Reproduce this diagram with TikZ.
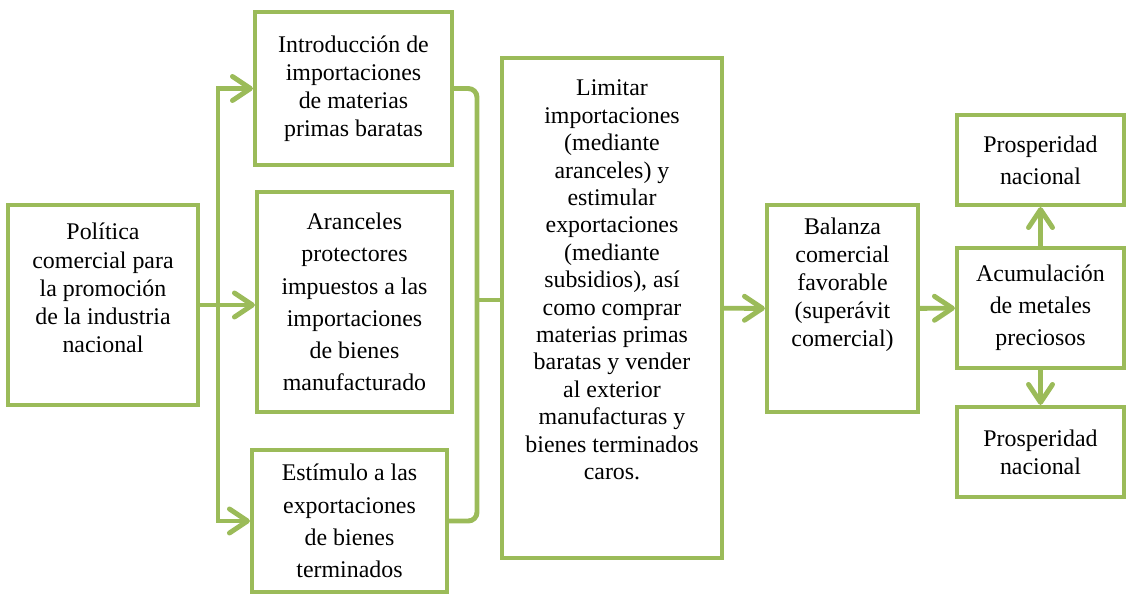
\documentclass[tikz,border=0pt]{standalone}
\usepackage{fontspec}
\setmainfont{Liberation Serif}
\usetikzlibrary{arrows.meta,positioning}
\definecolor{olive}{HTML}{9BBB59}

\begin{document}
\begin{tikzpicture}[
    x=0.02cm,y=-0.02cm,
    font=\fontsize{13.6}{16}\selectfont,
    box/.style={draw=olive,line width=2.4pt,fill=white,align=center,inner sep=0pt},
    loose/.style={font=\fontsize{13.6}{18.3}\selectfont},
    txt/.style={align=center,inner sep=0pt},
    link/.style={draw=olive,line width=2.8pt},
    arr/.style={link,-{Straight Barb[length=3.6mm,width=4.8mm,round]}}
  ]
  \useasboundingbox (0,0) rectangle (1126,595);
  % boxes
  \node[box,minimum width=3.8cm,minimum height=4cm] (pol) at (103,305) {};
  \node[txt] (poltext) at (103,288) {Política\\comercial para\\la promoción\\de la industria\\nacional};
  \node[box,minimum width=3.94cm,minimum height=3.06cm] (intro) at (353.5,88.5)
    {Introducción de\\importaciones\\de materias\\primas baratas};
  \node[box,loose,minimum width=3.9cm,minimum height=4.4cm] (aranc) at (354.5,302)
    {Aranceles\\protectores\\impuestos a las\\importaciones\\de bienes\\manufacturado};
  \node[box,loose,minimum width=3.9cm,minimum height=2.84cm] (estim) at (349.5,521)
    {Estímulo a las\\exportaciones\\de bienes\\terminados};
  \node[box,minimum width=4.4cm,minimum height=10cm] (limit) at (612,308) {};
  \node[txt,font=\fontsize{13.6}{15.6}\selectfont] (limittext) at (612,280)
    {Limitar\\importaciones\\(mediante\\aranceles) y\\estimular\\exportaciones\\(mediante\\subsidios), así\\como comprar\\materias primas\\baratas y vender\\al exterior\\manufacturas y\\bienes terminados\\caros.};
  \node[box,minimum width=3.02cm,minimum height=4.14cm] (balanza) at (842.5,308.5) {};
  \node[txt] (balanzatext) at (842.5,285)
    {Balanza\\comercial\\favorable\\(superávit\\comercial)};
  \node[box,loose,minimum width=3.34cm,minimum height=1.8cm] (pros1) at (1040.5,160)
    {Prosperidad\\nacional};
  \node[box,loose,minimum width=3.34cm,minimum height=2.4cm] (acum) at (1040.5,308)
    {Acumulación\\de metales\\preciosos};
  \node[box,minimum width=3.34cm,minimum height=1.8cm] (pros2) at (1040.5,452)
    {Prosperidad\\nacional};
  % connectors
  \coordinate (fork) at (218,305);
  \coordinate (brace) at (477,300);
  \draw[arr] (pol.east) -- (pol.east -| aranc.west);
  \draw[arr] (fork) |- (intro.west);
  \draw[arr] (fork) |- (estim.west);
  \draw[link,rounded corners=5pt] (intro.east) -| (brace) |- (estim.east);
  \draw[link] (brace) -- (brace -| limit.west);
  \draw[arr] (limit) -- (balanza);
  \draw[arr] (balanza) -- (acum);
  \draw[arr] (acum) -- (pros1);
  \draw[arr] (acum) -- (pros2);
\end{tikzpicture}
\end{document}
